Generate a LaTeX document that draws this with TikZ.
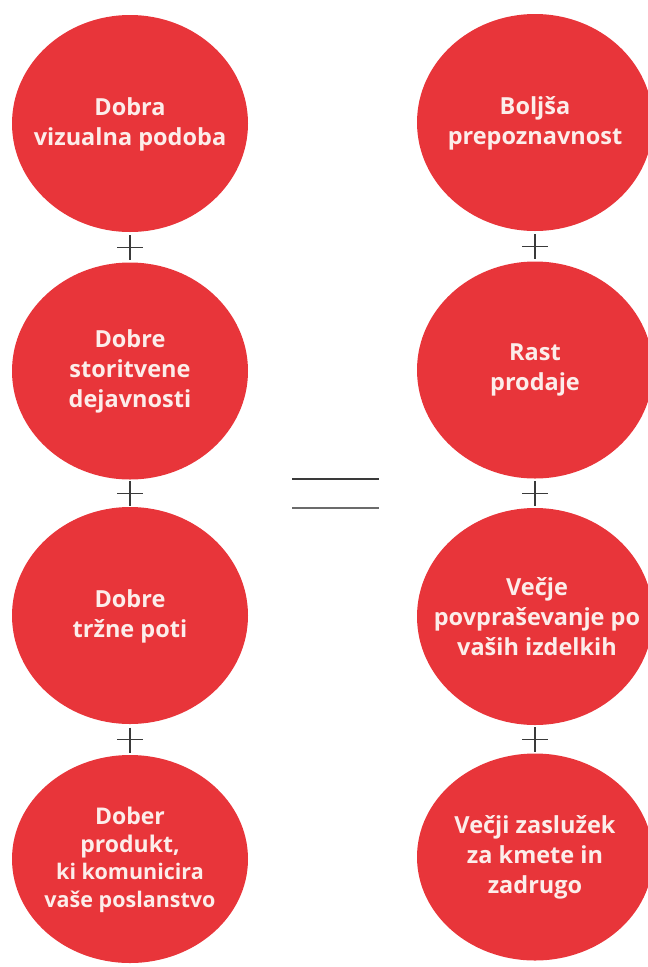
\documentclass[tikz,border=0pt]{standalone}
\usepackage{fontspec}
\setsansfont{Open Sans}
\usepackage{tikz}
\usetikzlibrary{shapes,positioning,calc}

\definecolor{dotred}{HTML}{E8353A}
\definecolor{dottext}{HTML}{FCEDEA}
\definecolor{signgray}{HTML}{3A3A3A}

\tikzset{
    blob/.style={ellipse, fill=dotred, minimum width=236pt, minimum height=217pt, inner sep=0pt},
    blobtext/.style={text=dottext, align=center, inner sep=0pt,
        font=\sffamily\bfseries\fontsize{23.5}{30}\selectfont},
    sign/.style={signgray, line width=1.2pt},
}

\begin{document}
\begin{tikzpicture}[x=1pt,y=-1pt]
    \useasboundingbox (0,0) rectangle (648,967);
    \clip (0,0) rectangle (648,967);

    % left column
    \node[blob] (l1) at (130,123.5) {};
    \node[blob] (l2) at (130,371) {};
    \node[blob] (l3) at (130,615.5) {};
    \node[blob, minimum height=208pt] (l4) at (130,859) {};
    \node[blobtext] (l1t) at ($(l1)+(0,1)$) {Dobra\\vizualna podoba};
    \node[blobtext] (l2t) at (l2) {Dobre\\storitvene\\dejavnosti};
    \node[blobtext] (l3t) at ($(l3)+(0,1)$) {Dobre\\tržne poti};
    \node[blobtext, font=\sffamily\bfseries\fontsize{23}{27.5}\selectfont] (l4t) at ($(l4)+(0,1)$)
        {Dober\\produkt,\\\fontsize{21.5}{27.5}\selectfont ki komunicira\\\fontsize{21.5}{27.5}\selectfont vaše poslanstvo};

    % right column
    \node[blob] (r1) at (535,122.5) {};
    \node[blob] (r2) at (535,370) {};
    \node[blob] (r3) at (535,616.5) {};
    \node[blob, minimum height=207pt] (r4) at (535,857) {};
    \node[blobtext] (r1t) at ($(r1)+(0,1)$) {Boljša\\prepoznavnost};
    \node[blobtext] (r2t) at (r2) {Rast\\prodaje};
    \node[blobtext] (r3t) at ($(r3)+(2,0)$) {Večje\\povpraševanje po\\vaših izdelkih};
    \node[blobtext] (r4t) at (r4) {Večji zaslužek\\za kmete in\\zadrugo};

    % plus signs
    \foreach \a/\b in {l1/l2,l2/l3,l3/l4,r1/r2,r2/r3,r3/r4} {
        \coordinate (p) at ($(\a.south)!0.5!(\b.north)$);
        \draw[sign] ($(p)+(-13,0)$) -- ($(p)+(13,0)$);
        \draw[sign] ($(p)+(0,-12)$) -- ($(p)+(0,13)$);
    }

    % equals sign
    \coordinate (eq) at (335.5,493.5);
    \draw[sign, line width=2pt] ($(eq)+(-43.5,-14.5)$) -- ($(eq)+(43.5,-14.5)$);
    \draw[sign, line width=2pt, signgray!75] ($(eq)+(-43.5,14.5)$) -- ($(eq)+(43.5,14.5)$);
\end{tikzpicture}
\end{document}
